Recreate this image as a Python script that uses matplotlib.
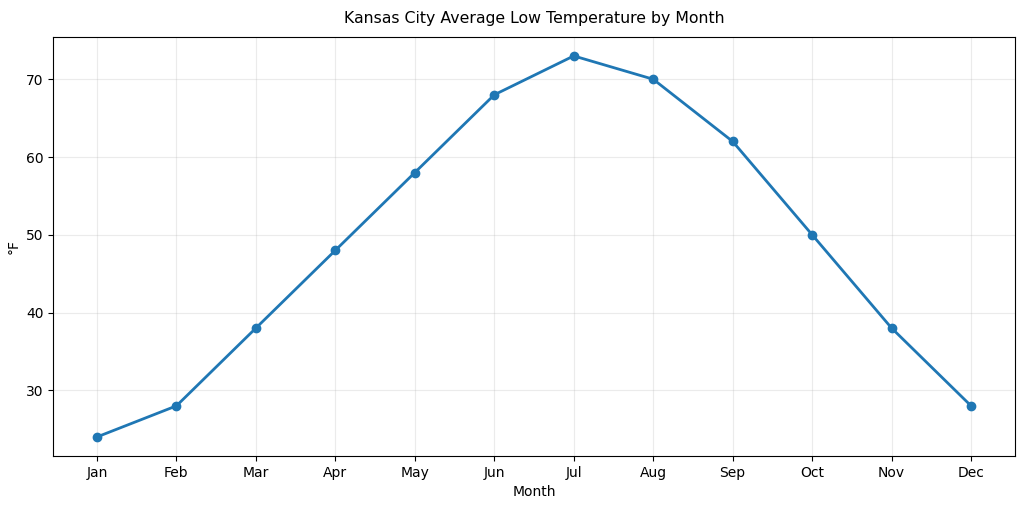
import matplotlib
matplotlib.use("Agg")
import matplotlib.pyplot as plt

months = ["Jan", "Feb", "Mar", "Apr", "May", "Jun", "Jul", "Aug", "Sep", "Oct", "Nov", "Dec"]
lows = [24, 28, 38, 48, 58, 68, 73, 70, 62, 50, 38, 28]

fig, ax = plt.subplots(figsize=(10.24, 5.05), dpi=100)
ax.plot(months, lows, marker="o", linewidth=2, color="#1f77b4")
ax.set_title("Kansas City Average Low Temperature by Month", fontsize=11.3, pad=10)
ax.set_xlabel("Month")
ax.set_ylabel("°F")
ax.grid(True, alpha=0.25)
fig.subplots_adjust(left=0.052, right=0.991, top=0.927, bottom=0.097)
fig.savefig("out.png", dpi=100)
